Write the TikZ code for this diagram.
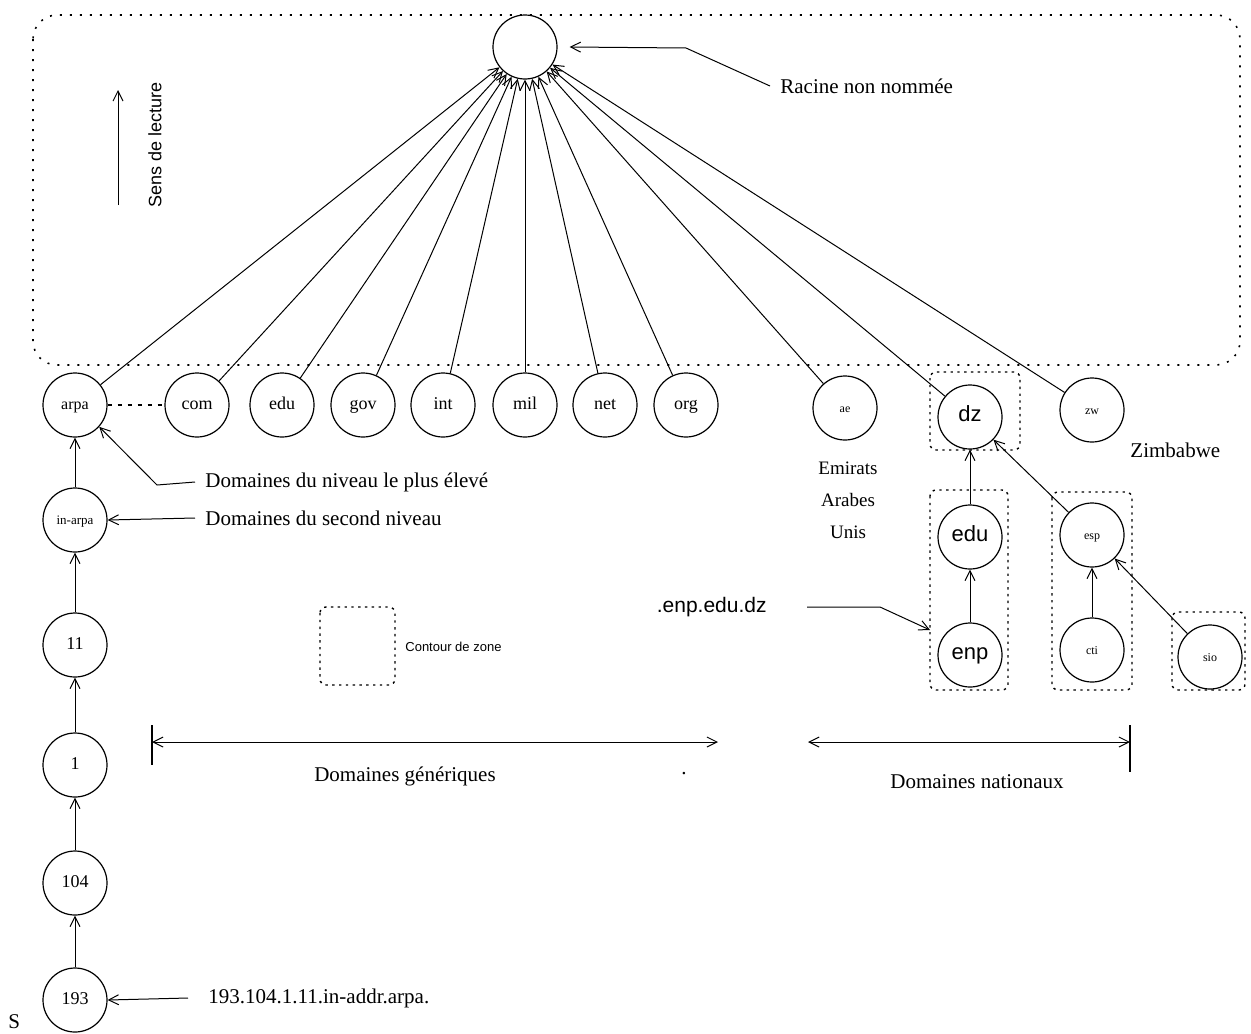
\documentclass[tikz,border=0pt]{standalone}
\usepackage{fontspec}
\setmainfont{Liberation Serif}
\setsansfont{Liberation Sans}
\usetikzlibrary{arrows.meta}
\tikzset{
  dom/.style={circle, draw, line width=0.6pt, minimum size=32pt, inner sep=0pt,
    text height=1.4ex, text depth=0.35ex, font=\fontsize{9}{10}\selectfont},
  tiny/.style={font=\fontsize{6}{7}\selectfont},
  big/.style={font=\sffamily\fontsize{11}{12}\selectfont},
  arr/.style={line width=0.5pt, -{Straight Barb[length=5pt,width=5pt]}},
  zone/.style={line width=0.7pt, dash pattern=on 1.2pt off 2.2pt, rounded corners=3pt},
  lbl/.style={font=\fontsize{10.5}{12}\selectfont, inner sep=0pt},
}
\begin{document}
\begin{tikzpicture}[x=0.5pt, y=-0.5pt]
\useasboundingbox (0,0) rectangle (1251,1033);

% top zone: the unnamed root
\draw[line width=0.8pt, dash pattern=on 1pt off 4pt, rounded corners=12pt] (33,15) rectangle (1240,365);
\node[dom] (root) at (525,47) {};

% reading direction
\coordinate (sensA) at (118,205);
\coordinate (sensB) at (118,90);
\draw[arr] (sensA) -- (sensB);
\node[font=\sffamily\fontsize{9}{10}\selectfont, rotate=90] (sens) at (155,145) {Sens de lecture};

% root label
\node[lbl, anchor=west] (racine) at (780,86) {Racine non nommée};
\draw[arr] ([xshift=-5pt]racine.west) -- (686,48) -- ([xshift=6pt]root.east);

% top-level domains
\node[dom, font=\fontsize{8}{9}\selectfont] (arpa) at (75,405) {arpa};
\node[dom] (com) at (197,405) {com};
\node[dom] (edu) at (282,405) {edu};
\node[dom] (gov) at (363,405) {gov};
\node[dom] (int) at (443,405) {int};
\node[dom] (mil) at (525,405) {mil};
\node[dom] (net) at (605,405) {net};
\node[dom] (org) at (686,405) {org};
\node[dom, tiny] (ae) at (845,408) {ae};
\node[dom, big] (dz) at (970,417) {dz};
\node[dom, tiny] (zw) at (1092,410) {zw};

\draw[line width=0.6pt, dash pattern=on 2pt off 3pt] (arpa) -- (com);

\foreach \n in {arpa,com,edu,gov,int,mil,net,org,ae,dz,zw}
  \draw[arr] (\n) -- (root);

% reverse tree of in-addr
\node[dom, font=\fontsize{6.5}{7}\selectfont] (inarpa) at (75,520) {in-arpa};
\node[dom] (n11) at (75,645) {11};
\node[dom] (n1) at (75,765) {1};
\node[dom] (n104) at (75,883) {104};
\node[dom] (n193) at (75,1000) {193};
\draw[arr] (inarpa) -- (arpa);
\draw[arr] (n11) -- (inarpa);
\draw[arr] (n1) -- (n11);
\draw[arr] (n104) -- (n1);
\draw[arr] (n193) -- (n104);

\node[lbl, anchor=west] (niv1) at (205,482) {Domaines du niveau le plus élevé};
\draw[arr] ([xshift=-5pt]niv1.west) -- (157,485) -- (arpa.-42);
\node[lbl, anchor=west] (niv2) at (205,518) {Domaines du second niveau};
\draw[arr] ([xshift=-5pt]niv2.west) -- (inarpa.east);
\node[lbl, anchor=west] (addr) at (208,998) {193.104.1.11.in-addr.arpa.};
\draw[arr] ([xshift=-10pt]addr.west) -- (n193.east);
\node[lbl, anchor=west] (s) at (8,1022) {S};

% zone outline legend
\draw[zone] (320,607) rectangle (395,685);
\node[anchor=west, font=\sffamily\fontsize{6.5}{7}\selectfont, inner sep=0pt] (contour) at (405,647) {Contour de zone};

% national domains
\node[dom, big] (dedu) at (970,537) {edu};
\node[dom, big] (enp) at (970,655) {enp};
\node[dom, tiny] (esp) at (1092,535) {esp};
\node[dom, tiny] (cti) at (1092,650) {cti};
\node[dom, tiny] (sio) at (1210,657) {sio};
\draw[zone] (930,372) rectangle (1020,450);
\draw[zone] (930,490) rectangle (1008,690);
\draw[zone] (1052,492) rectangle (1132,690);
\draw[zone] (1172,612) rectangle (1245,690);
\draw[arr] (dedu) -- (dz);
\draw[arr] (enp) -- (dedu);
\draw[arr] (cti) -- (esp);
\draw[arr] (sio) -- (esp);
\draw[arr] (esp) -- (dz);

\node[lbl, align=center, font=\fontsize{9.5}{16}\selectfont] (emirats) at (848,500) {Emirats\\Arabes\\Unis};
\node[lbl, anchor=west] (zimb) at (1130,450) {Zimbabwe};

\node[anchor=east, font=\sffamily\fontsize{10.5}{12}\selectfont, inner sep=0pt] (enpdz) at (767,607) {.enp.edu.dz};
\coordinate (enptip) at (930,630);
\draw[arr] ([xshift=20pt]enpdz.east) -- (880,607) -- (enptip);

% generic and national ranges
\coordinate (gA) at (152,742);
\coordinate (gB) at (718,742);
\draw[line width=0.6pt] (152,725) -- (152,765);
\draw[line width=0.5pt, {Straight Barb[length=5pt,width=5pt]}-{Straight Barb[length=5pt,width=5pt]}] (gA) -- (gB);
\node[lbl] (gen) at (405,776) {Domaines génériques};
\node[lbl] (dot) at (684,774) {.};

\coordinate (nA) at (808,742);
\coordinate (nB) at (1130,742);
\draw[line width=0.6pt] (1130,725) -- (1130,772);
\draw[line width=0.5pt, {Straight Barb[length=5pt,width=5pt]}-{Straight Barb[length=5pt,width=5pt]}] (nA) -- (nB);
\node[lbl] (nat) at (977,782) {Domaines nationaux};
\end{tikzpicture}
\end{document}
